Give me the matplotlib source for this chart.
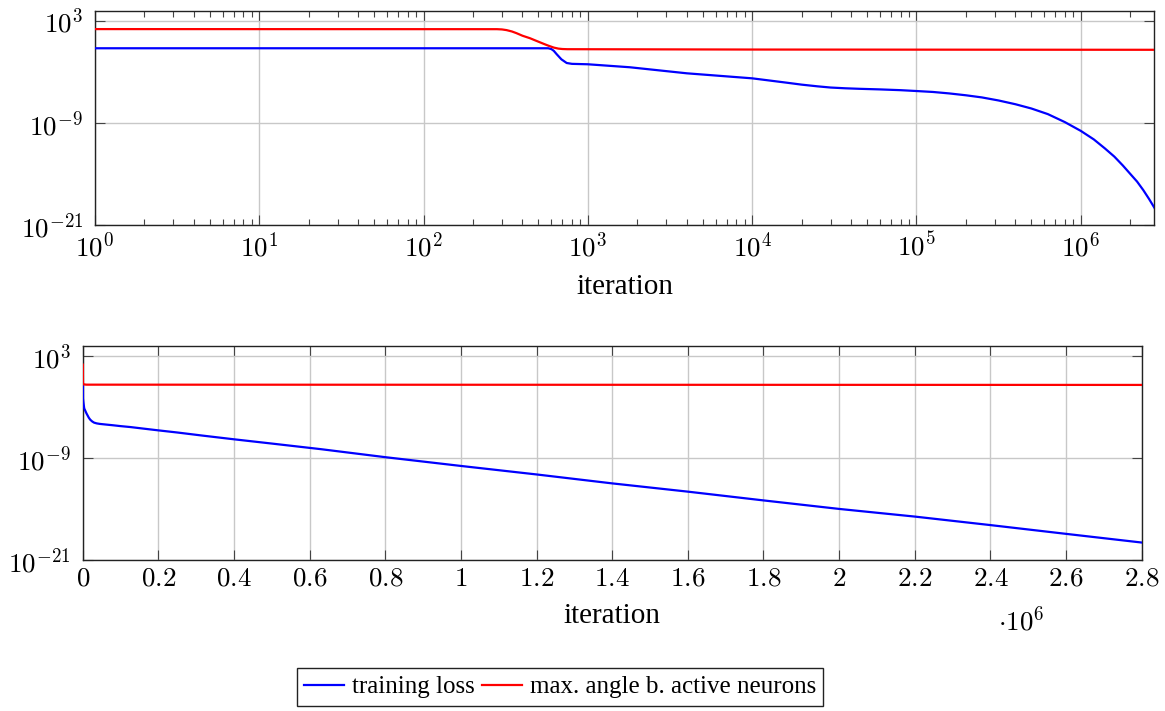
import numpy as np
import matplotlib
matplotlib.use('Agg')
import matplotlib.pyplot as plt
from matplotlib.ticker import FixedLocator, FuncFormatter, NullLocator

# Data (log10 of the values)
##################################################

loss_iter = [1, 100, 574, 600, 620, 646, 690, 743, 800, 1000, 1800, 4000, 10000,
             16200, 20000, 25000, 30000, 37000, 45000, 60000, 80000, 100000,
             126000, 158000, 200000, 250000, 316000, 400000, 500000, 630000,
             800000, 1000000, 1200000, 1400000, 1600000, 1800000, 2000000,
             2200000, 2400000, 2600000, 2800000]
loss_log = [-0.25, -0.25, -0.25, -0.35, -0.55, -0.95, -1.55, -1.98, -2.08, -2.13,
            -2.48, -3.19, -3.78, -4.29, -4.52, -4.72, -4.86, -4.95, -5.01, -5.08,
            -5.17, -5.27, -5.38, -5.55, -5.77, -6.02, -6.38, -6.82, -7.32, -7.98,
            -8.92, -9.95, -10.95, -12.0, -12.97, -14.0, -15.0, -15.9, -16.9,
            -17.93, -18.95]

angle_iter = [1, 280, 300, 320, 345, 368, 400, 444, 480, 535, 570, 620, 661,
              700, 750, 10000, 2800000]
angle_log = [2.0, 1.99, 1.96, 1.88, 1.72, 1.52, 1.22, 0.93, 0.66, 0.29, 0.08,
             -0.17, -0.29, -0.34, -0.36, -0.40, -0.43]

ytick_vals = [1e3, 1e-9, 1e-21]
xtick_log = [1, 1e1, 1e2, 1e3, 1e4, 1e5, 1e6]
xtick_lin = [0, 0.2e6, 0.4e6, 0.6e6, 0.8e6, 1.0e6, 1.2e6, 1.4e6, 1.6e6, 1.8e6,
             2.0e6, 2.2e6, 2.4e6, 2.6e6, 2.8e6]

loss = 10.0 ** np.array(loss_log)
angle = 10.0 ** np.array(angle_log)

# Style
########

plt.rcParams['mathtext.fontset'] = 'cm'
plt.rcParams['font.family'] = ['Liberation Serif', 'DejaVu Serif']
FS_TICK = 19.5
FS_LAB = 21
FS_LEG = 18

fig = plt.figure(figsize=(11.65, 7.11), dpi=100)
ax1 = fig.add_axes([0.0815, 0.6835, 0.9093, 0.3017])
ax2 = fig.add_axes([0.071, 0.2124, 0.909, 0.3014])

def sci(v, pos):
    return r'$10^{%d}$' % int(round(np.log10(v)))

def lin(v, pos):
    return r'$%g$' % (v / 1e6)

for ax in (ax1, ax2):
    ax.plot(loss_iter, loss, color='#0000ff', lw=1.6, label='training loss', zorder=3)
    ax.plot(angle_iter, angle, color='#ff0000', lw=1.6,
            label='max. angle b. active neurons', zorder=3)
    ax.set_yscale('log')
    ax.set_ylim(1e-21, 10 ** 4.18)
    ax.yaxis.set_major_locator(FixedLocator(ytick_vals))
    ax.yaxis.set_minor_locator(NullLocator())
    ax.yaxis.set_major_formatter(FuncFormatter(sci))
    ax.grid(True, which='major', color='#c8c8c8', lw=1.0)
    ax.set_axisbelow(True)
    ax.tick_params(which='both', direction='in', top=True, right=True,
                   labelsize=FS_TICK, color='#444444', width=0.8)
    ax.tick_params(which='major', length=7)
    ax.tick_params(axis='x', which='major', pad=5)
    ax.tick_params(axis='y', which='major', pad=8.5)
    ax.tick_params(which='minor', length=4)
    for s in ax.spines.values():
        s.set_linewidth(1.0)
        s.set_color('#222222')
    ax.set_xlabel('iteration', fontsize=FS_LAB)

# top : log x axis
ax1.set_xscale('log')
ax1.set_xlim(1, 2.8e6)
minor_log = [m * d for d in xtick_log for m in range(2, 10) if m * d <= 2.8e6]
ax1.xaxis.set_major_locator(FixedLocator(xtick_log))
ax1.xaxis.set_minor_locator(FixedLocator(minor_log))
ax1.xaxis.set_major_formatter(FuncFormatter(sci))
ax1.xaxis.labelpad = 9

# bottom : linear x axis
ax2.set_xlim(0, 2.8e6)
ax2.xaxis.set_major_locator(FixedLocator(xtick_lin))
ax2.xaxis.set_minor_locator(NullLocator())
ax2.xaxis.set_major_formatter(FuncFormatter(lin))
ax2.xaxis.labelpad = 8
fig.text(1021 / 1165, 1 - 621 / 711, r'$\cdot 10^{6}$', fontsize=FS_TICK,
         ha='center', va='center')

handles, labels = ax2.get_legend_handles_labels()
leg = fig.legend(handles, labels, loc='center', ncol=2,
                 bbox_to_anchor=(560 / 1165, 1 - 687 / 711), fontsize=FS_LEG,
                 frameon=True, fancybox=False, edgecolor='#222222',
                 framealpha=1, handlelength=1.6, handletextpad=0.3,
                 columnspacing=0.3, borderpad=0.3)
leg.get_frame().set_linewidth(1.0)

fig.savefig('out.png', dpi=100)
